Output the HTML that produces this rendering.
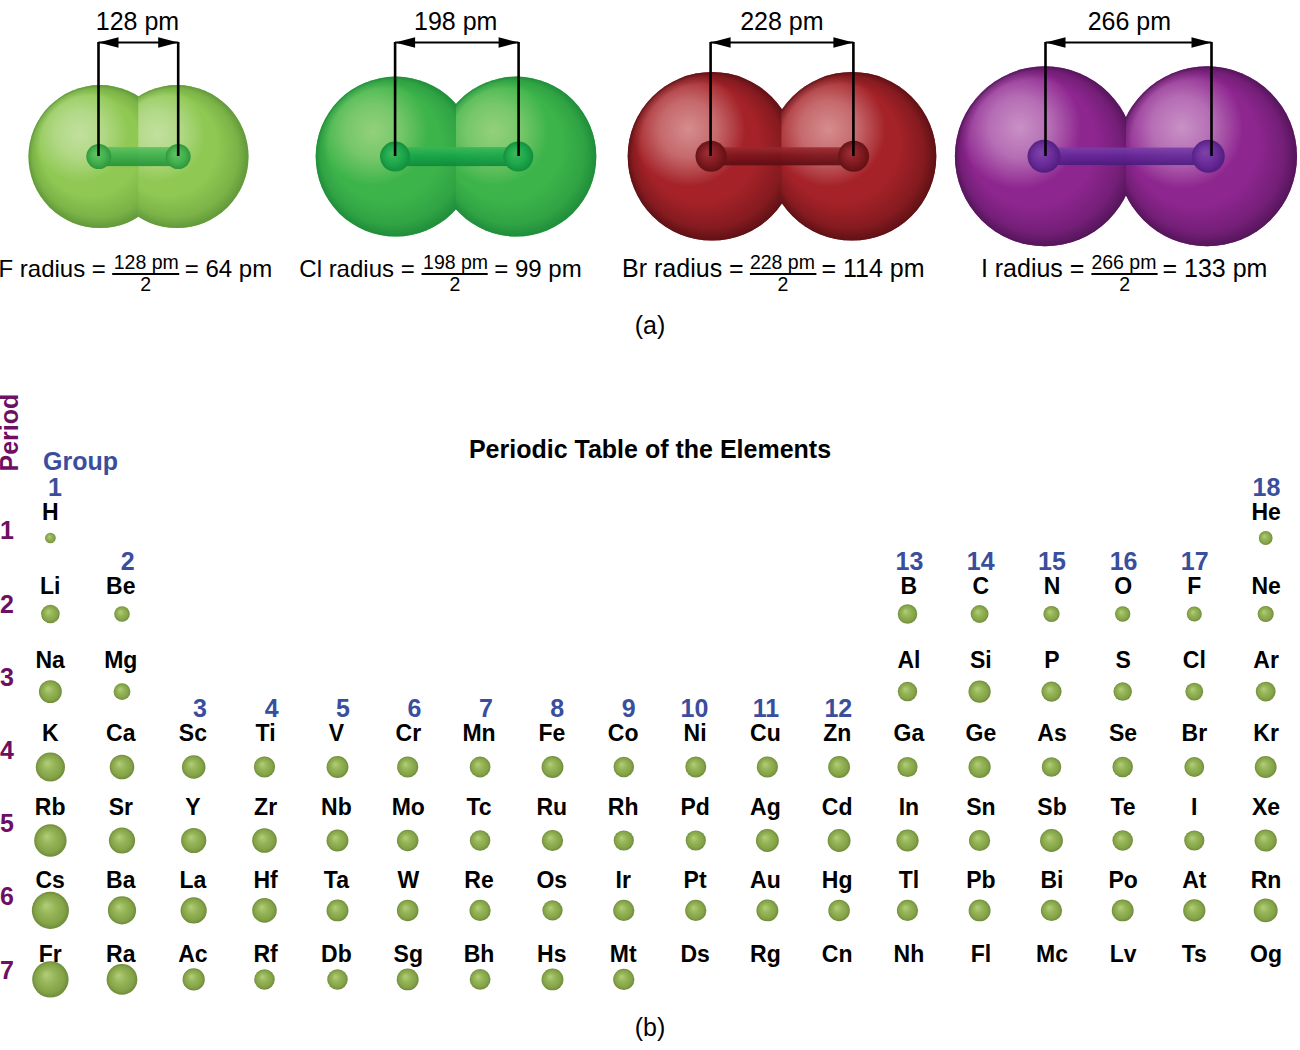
<!DOCTYPE html>
<html><head><meta charset="utf-8">
<style>
html,body{margin:0;padding:0;background:#fff;}
svg{display:block;}
text{font-family:"Liberation Sans", sans-serif;}
.sym{font-weight:bold;font-size:23px;text-anchor:middle;fill:#000;}
.grp{font-weight:bold;font-size:25px;text-anchor:middle;fill:#3a4e9e;}
.per{font-weight:bold;font-size:25px;text-anchor:end;fill:#6d0f63;}
.lab{font-size:24px;fill:#000;}
.frac{font-size:19.5px;fill:#000;text-anchor:middle;}
.cap{font-size:25px;fill:#000;text-anchor:middle;}
</style></head>
<body>
<svg width="1300" height="1050" viewBox="0 0 1300 1050">
<defs><radialGradient id="gs" cx="0.5" cy="0.5" r="0.5" fx="0.38" fy="0.36">
  <stop offset="0" stop-color="#b2ce7c"/>
  <stop offset="0.4" stop-color="#97b658"/>
  <stop offset="0.8" stop-color="#84a247"/>
  <stop offset="1" stop-color="#6e8c3a"/>
</radialGradient>
<radialGradient id="g_f" cx="0.5" cy="0.5" r="0.5" fx="0.42" fy="0.42">
<stop offset="0" stop-color="#8fc852"/><stop offset="0.72" stop-color="#8fc852"/><stop offset="0.92" stop-color="#5a9036" stop-opacity="0.0"/></radialGradient>
<radialGradient id="d_f" cx="0.5" cy="0.5" r="0.5" fx="0.27" fy="0.25">
<stop offset="0" stop-color="#5a9036" stop-opacity="0"/><stop offset="0.7" stop-color="#5a9036" stop-opacity="0"/><stop offset="0.9" stop-color="#5a9036" stop-opacity="0.38"/><stop offset="1" stop-color="#5a9036" stop-opacity="0.85"/></radialGradient>
<radialGradient id="h_f" cx="0.36" cy="0.34" r="0.34">
<stop offset="0" stop-color="#d2e8b8" stop-opacity="0.75"/><stop offset="0.5" stop-color="#d2e8b8" stop-opacity="0.5"/><stop offset="1" stop-color="#d2e8b8" stop-opacity="0"/></radialGradient>
<linearGradient id="b_f" x1="0" y1="0" x2="0" y2="1">
<stop offset="0" stop-color="#5cc064"/><stop offset="0.45" stop-color="#3aae4a"/><stop offset="1" stop-color="#249038"/></linearGradient>
<radialGradient id="n_f" cx="0.5" cy="0.5" r="0.5" fx="0.4" fy="0.38">
<stop offset="0" stop-color="#5cc064"/><stop offset="0.6" stop-color="#3aae4a"/><stop offset="1" stop-color="#249038"/></radialGradient>
<clipPath id="cL_f"><rect x="0" y="0" width="139.3" height="300"/></clipPath>
<clipPath id="cR_f"><rect x="138.3" y="0" width="1300" height="300"/></clipPath>
<radialGradient id="g_cl" cx="0.5" cy="0.5" r="0.5" fx="0.42" fy="0.42">
<stop offset="0" stop-color="#3db44a"/><stop offset="0.72" stop-color="#3db44a"/><stop offset="0.92" stop-color="#1a8638" stop-opacity="0.0"/></radialGradient>
<radialGradient id="d_cl" cx="0.5" cy="0.5" r="0.5" fx="0.27" fy="0.25">
<stop offset="0" stop-color="#1a8638" stop-opacity="0"/><stop offset="0.7" stop-color="#1a8638" stop-opacity="0"/><stop offset="0.9" stop-color="#1a8638" stop-opacity="0.38"/><stop offset="1" stop-color="#1a8638" stop-opacity="0.85"/></radialGradient>
<radialGradient id="h_cl" cx="0.36" cy="0.34" r="0.34">
<stop offset="0" stop-color="#b0da8a" stop-opacity="0.75"/><stop offset="0.5" stop-color="#b0da8a" stop-opacity="0.5"/><stop offset="1" stop-color="#b0da8a" stop-opacity="0"/></radialGradient>
<linearGradient id="b_cl" x1="0" y1="0" x2="0" y2="1">
<stop offset="0" stop-color="#38b858"/><stop offset="0.45" stop-color="#17a54a"/><stop offset="1" stop-color="#0c8a3a"/></linearGradient>
<radialGradient id="n_cl" cx="0.5" cy="0.5" r="0.5" fx="0.4" fy="0.38">
<stop offset="0" stop-color="#38b858"/><stop offset="0.6" stop-color="#17a54a"/><stop offset="1" stop-color="#0c8a3a"/></radialGradient>
<clipPath id="cL_cl"><rect x="0" y="0" width="457" height="300"/></clipPath>
<clipPath id="cR_cl"><rect x="456" y="0" width="1300" height="300"/></clipPath>
<radialGradient id="g_br" cx="0.5" cy="0.5" r="0.5" fx="0.42" fy="0.42">
<stop offset="0" stop-color="#a42228"/><stop offset="0.72" stop-color="#a42228"/><stop offset="0.92" stop-color="#520e12" stop-opacity="0.0"/></radialGradient>
<radialGradient id="d_br" cx="0.5" cy="0.5" r="0.5" fx="0.27" fy="0.25">
<stop offset="0" stop-color="#520e12" stop-opacity="0"/><stop offset="0.7" stop-color="#520e12" stop-opacity="0"/><stop offset="0.9" stop-color="#520e12" stop-opacity="0.38"/><stop offset="1" stop-color="#520e12" stop-opacity="0.85"/></radialGradient>
<radialGradient id="h_br" cx="0.36" cy="0.34" r="0.34">
<stop offset="0" stop-color="#e6b0b0" stop-opacity="0.75"/><stop offset="0.5" stop-color="#e6b0b0" stop-opacity="0.5"/><stop offset="1" stop-color="#e6b0b0" stop-opacity="0"/></radialGradient>
<linearGradient id="b_br" x1="0" y1="0" x2="0" y2="1">
<stop offset="0" stop-color="#9a2a30"/><stop offset="0.45" stop-color="#7c161c"/><stop offset="1" stop-color="#5a0c10"/></linearGradient>
<radialGradient id="n_br" cx="0.5" cy="0.5" r="0.5" fx="0.4" fy="0.38">
<stop offset="0" stop-color="#9a2a30"/><stop offset="0.6" stop-color="#7c161c"/><stop offset="1" stop-color="#5a0c10"/></radialGradient>
<clipPath id="cL_br"><rect x="0" y="0" width="782.4" height="300"/></clipPath>
<clipPath id="cR_br"><rect x="781.4" y="0" width="1300" height="300"/></clipPath>
<radialGradient id="g_i" cx="0.5" cy="0.5" r="0.5" fx="0.42" fy="0.42">
<stop offset="0" stop-color="#8e2690"/><stop offset="0.72" stop-color="#8e2690"/><stop offset="0.92" stop-color="#4a1250" stop-opacity="0.0"/></radialGradient>
<radialGradient id="d_i" cx="0.5" cy="0.5" r="0.5" fx="0.27" fy="0.25">
<stop offset="0" stop-color="#4a1250" stop-opacity="0"/><stop offset="0.7" stop-color="#4a1250" stop-opacity="0"/><stop offset="0.9" stop-color="#4a1250" stop-opacity="0.38"/><stop offset="1" stop-color="#4a1250" stop-opacity="0.85"/></radialGradient>
<radialGradient id="h_i" cx="0.36" cy="0.34" r="0.34">
<stop offset="0" stop-color="#dcb4d8" stop-opacity="0.75"/><stop offset="0.5" stop-color="#dcb4d8" stop-opacity="0.5"/><stop offset="1" stop-color="#dcb4d8" stop-opacity="0"/></radialGradient>
<linearGradient id="b_i" x1="0" y1="0" x2="0" y2="1">
<stop offset="0" stop-color="#7a40a8"/><stop offset="0.45" stop-color="#65289a"/><stop offset="1" stop-color="#4a1a7c"/></linearGradient>
<radialGradient id="n_i" cx="0.5" cy="0.5" r="0.5" fx="0.4" fy="0.38">
<stop offset="0" stop-color="#7a40a8"/><stop offset="0.6" stop-color="#65289a"/><stop offset="1" stop-color="#4a1a7c"/></radialGradient>
<clipPath id="cL_i"><rect x="0" y="0" width="1127" height="300"/></clipPath>
<clipPath id="cR_i"><rect x="1126" y="0" width="1300" height="300"/></clipPath></defs>
<g clip-path="url(#cL_f)"><circle cx="100" cy="156.6" r="71.5" fill="#8fc852"/><circle cx="100" cy="156.6" r="71.5" fill="url(#h_f)"/><circle cx="100" cy="156.6" r="71.5" fill="url(#d_f)"/></g>
<g clip-path="url(#cR_f)"><circle cx="177" cy="156.6" r="71.5" fill="#8fc852"/><circle cx="177" cy="156.6" r="71.5" fill="url(#h_f)"/><circle cx="177" cy="156.6" r="71.5" fill="url(#d_f)"/></g>
<g opacity="0.9"><rect x="98.8" y="147.1" width="79.39999999999999" height="19" fill="url(#b_f)"/><circle cx="98.8" cy="156.6" r="12.5" fill="url(#n_f)"/><circle cx="178.2" cy="156.6" r="12.5" fill="url(#n_f)"/></g>
<path d="M98.5 156 V41.9 M178.2 156 V41.9" fill="none" stroke="#000" stroke-width="2.6"/>
<path d="M98.5 42.5 H178.2" fill="none" stroke="#000" stroke-width="2.1"/>
<path d="M98.5 42.5 L118.5 37.2 V47.8 Z M178.2 42.5 L158.2 37.2 V47.8 Z" fill="#000"/>
<text x="137.5" y="30" class="lab" style="font-size:25px" text-anchor="middle">128 pm</text>
<text x="-1.5" y="277.3" class="lab" style="font-size:24px">F radius =</text>
<text x="146.25" y="269.4" class="frac">128 pm</text>
<rect x="112.2" y="273" width="66.99999999999999" height="2" fill="#000"/>
<text x="145.6" y="290.5" class="frac">2</text>
<text x="184.8" y="277.3" class="lab" style="font-size:24px">= 64 pm</text>
<g clip-path="url(#cL_cl)"><circle cx="395.7" cy="156.6" r="80" fill="#3db44a"/><circle cx="395.7" cy="156.6" r="80" fill="url(#h_cl)"/><circle cx="395.7" cy="156.6" r="80" fill="url(#d_cl)"/></g>
<g clip-path="url(#cR_cl)"><circle cx="516.3" cy="156.6" r="80" fill="#3db44a"/><circle cx="516.3" cy="156.6" r="80" fill="url(#h_cl)"/><circle cx="516.3" cy="156.6" r="80" fill="url(#d_cl)"/></g>
<g opacity="0.9"><rect x="395" y="147.1" width="123.29999999999995" height="19" fill="url(#b_cl)"/><circle cx="395" cy="156.6" r="15" fill="url(#n_cl)"/><circle cx="518.3" cy="156.6" r="15" fill="url(#n_cl)"/></g>
<path d="M395.1 156 V41.9 M518.6 156 V41.9" fill="none" stroke="#000" stroke-width="2.6"/>
<path d="M395.1 42.5 H518.6" fill="none" stroke="#000" stroke-width="2.1"/>
<path d="M395.1 42.5 L415.1 37.2 V47.8 Z M518.6 42.5 L498.6 37.2 V47.8 Z" fill="#000"/>
<text x="455.7" y="30" class="lab" style="font-size:25px" text-anchor="middle">198 pm</text>
<text x="299.3" y="277.3" class="lab" style="font-size:24px">Cl radius =</text>
<text x="455.6" y="269.4" class="frac">198 pm</text>
<rect x="421.5" y="273" width="66.19999999999999" height="2" fill="#000"/>
<text x="455" y="290.5" class="frac">2</text>
<text x="494.3" y="277.3" class="lab" style="font-size:24px">= 99 pm</text>
<g clip-path="url(#cL_br)"><circle cx="712" cy="156.3" r="84.3" fill="#a42228"/><circle cx="712" cy="156.3" r="84.3" fill="url(#h_br)"/><circle cx="712" cy="156.3" r="84.3" fill="url(#d_br)"/></g>
<g clip-path="url(#cR_br)"><circle cx="852" cy="156.3" r="84.3" fill="#a42228"/><circle cx="852" cy="156.3" r="84.3" fill="url(#h_br)"/><circle cx="852" cy="156.3" r="84.3" fill="url(#d_br)"/></g>
<g opacity="0.9"><rect x="711" y="147.3" width="142.60000000000002" height="18" fill="url(#b_br)"/><circle cx="711" cy="156.3" r="15.5" fill="url(#n_br)"/><circle cx="853.6" cy="156.3" r="15.5" fill="url(#n_br)"/></g>
<path d="M710.6 156 V41.9 M853.4 156 V41.9" fill="none" stroke="#000" stroke-width="2.6"/>
<path d="M710.6 42.5 H853.4" fill="none" stroke="#000" stroke-width="2.1"/>
<path d="M710.6 42.5 L730.6 37.2 V47.8 Z M853.4 42.5 L833.4 37.2 V47.8 Z" fill="#000"/>
<text x="781.9" y="30" class="lab" style="font-size:25px" text-anchor="middle">228 pm</text>
<text x="622.1" y="277.3" class="lab" style="font-size:25px">Br radius =</text>
<text x="782.4" y="269.4" class="frac">228 pm</text>
<rect x="749.9" y="273" width="66.5" height="2" fill="#000"/>
<text x="783" y="290.5" class="frac">2</text>
<text x="821.5" y="277.3" class="lab" style="font-size:25px">= 114 pm</text>
<g clip-path="url(#cL_i)"><circle cx="1044.9" cy="156.3" r="90" fill="#8e2690"/><circle cx="1044.9" cy="156.3" r="90" fill="url(#h_i)"/><circle cx="1044.9" cy="156.3" r="90" fill="url(#d_i)"/></g>
<g clip-path="url(#cR_i)"><circle cx="1207" cy="156.3" r="90" fill="#8e2690"/><circle cx="1207" cy="156.3" r="90" fill="url(#h_i)"/><circle cx="1207" cy="156.3" r="90" fill="url(#d_i)"/></g>
<g opacity="0.9"><rect x="1044" y="147.55" width="164.29999999999995" height="17.5" fill="url(#b_i)"/><circle cx="1044" cy="156.3" r="16.5" fill="url(#n_i)"/><circle cx="1208.3" cy="156.3" r="16.5" fill="url(#n_i)"/></g>
<path d="M1045.5 156 V41.9 M1211.5 156 V41.9" fill="none" stroke="#000" stroke-width="2.6"/>
<path d="M1045.5 42.5 H1211.5" fill="none" stroke="#000" stroke-width="2.1"/>
<path d="M1045.5 42.5 L1065.5 37.2 V47.8 Z M1211.5 42.5 L1191.5 37.2 V47.8 Z" fill="#000"/>
<text x="1129.4" y="30" class="lab" style="font-size:25px" text-anchor="middle">266 pm</text>
<text x="980.9" y="277.3" class="lab" style="font-size:25px">I radius =</text>
<text x="1123.9" y="269.4" class="frac">266 pm</text>
<rect x="1091.4" y="273" width="66.19999999999982" height="2" fill="#000"/>
<text x="1124.65" y="290.5" class="frac">2</text>
<text x="1162.5" y="277.3" class="lab" style="font-size:25px">= 133 pm</text>
<text x="50.2" y="520.4" class="sym">H</text>
<circle cx="50.4" cy="538.0" r="5.35" fill="url(#gs)"/>
<text x="1266.1" y="520.4" class="sym">He</text>
<circle cx="1265.7" cy="538.0" r="6.90" fill="url(#gs)"/>
<text x="50.2" y="593.9" class="sym">Li</text>
<circle cx="50.4" cy="614.0" r="9.30" fill="url(#gs)"/>
<text x="120.8" y="593.9" class="sym">Be</text>
<circle cx="122.0" cy="614.0" r="7.80" fill="url(#gs)"/>
<text x="908.9" y="593.9" class="sym">B</text>
<circle cx="907.5" cy="614.0" r="9.75" fill="url(#gs)"/>
<text x="980.9" y="593.9" class="sym">C</text>
<circle cx="979.6" cy="614.0" r="8.90" fill="url(#gs)"/>
<text x="1052.0" y="593.9" class="sym">N</text>
<circle cx="1051.5" cy="614.0" r="8.10" fill="url(#gs)"/>
<text x="1123.1" y="593.9" class="sym">O</text>
<circle cx="1122.7" cy="614.0" r="7.70" fill="url(#gs)"/>
<text x="1194.3" y="593.9" class="sym">F</text>
<circle cx="1194.3" cy="614.0" r="7.55" fill="url(#gs)"/>
<text x="1266.1" y="593.9" class="sym">Ne</text>
<circle cx="1265.7" cy="614.0" r="8.05" fill="url(#gs)"/>
<text x="50.2" y="667.5" class="sym">Na</text>
<circle cx="50.4" cy="691.6" r="11.45" fill="url(#gs)"/>
<text x="120.8" y="667.5" class="sym">Mg</text>
<circle cx="122.0" cy="691.6" r="8.40" fill="url(#gs)"/>
<text x="908.9" y="667.5" class="sym">Al</text>
<circle cx="907.5" cy="691.6" r="9.75" fill="url(#gs)"/>
<text x="980.9" y="667.5" class="sym">Si</text>
<circle cx="979.6" cy="691.6" r="11.10" fill="url(#gs)"/>
<text x="1052.0" y="667.5" class="sym">P</text>
<circle cx="1051.5" cy="691.6" r="10.10" fill="url(#gs)"/>
<text x="1123.1" y="667.5" class="sym">S</text>
<circle cx="1122.7" cy="691.6" r="9.25" fill="url(#gs)"/>
<text x="1194.3" y="667.5" class="sym">Cl</text>
<circle cx="1194.3" cy="691.6" r="8.90" fill="url(#gs)"/>
<text x="1266.1" y="667.5" class="sym">Ar</text>
<circle cx="1265.7" cy="691.6" r="9.90" fill="url(#gs)"/>
<text x="50.2" y="741.0" class="sym">K</text>
<circle cx="50.4" cy="767.0" r="14.60" fill="url(#gs)"/>
<text x="120.8" y="741.0" class="sym">Ca</text>
<circle cx="122.0" cy="767.0" r="12.30" fill="url(#gs)"/>
<text x="192.9" y="741.0" class="sym">Sc</text>
<circle cx="193.7" cy="767.0" r="11.80" fill="url(#gs)"/>
<text x="265.6" y="741.0" class="sym">Ti</text>
<circle cx="264.5" cy="767.0" r="10.60" fill="url(#gs)"/>
<text x="336.4" y="741.0" class="sym">V</text>
<circle cx="337.5" cy="767.0" r="10.95" fill="url(#gs)"/>
<text x="408.3" y="741.0" class="sym">Cr</text>
<circle cx="407.7" cy="767.0" r="10.60" fill="url(#gs)"/>
<text x="479.0" y="741.0" class="sym">Mn</text>
<circle cx="480.1" cy="767.0" r="10.40" fill="url(#gs)"/>
<text x="551.8" y="741.0" class="sym">Fe</text>
<circle cx="552.5" cy="767.0" r="10.95" fill="url(#gs)"/>
<text x="623.2" y="741.0" class="sym">Co</text>
<circle cx="623.8" cy="767.0" r="10.25" fill="url(#gs)"/>
<text x="695.1" y="741.0" class="sym">Ni</text>
<circle cx="695.8" cy="767.0" r="10.45" fill="url(#gs)"/>
<text x="765.4" y="741.0" class="sym">Cu</text>
<circle cx="767.4" cy="767.0" r="10.60" fill="url(#gs)"/>
<text x="837.2" y="741.0" class="sym">Zn</text>
<circle cx="839.1" cy="767.0" r="10.95" fill="url(#gs)"/>
<text x="908.9" y="741.0" class="sym">Ga</text>
<circle cx="907.5" cy="767.0" r="10.10" fill="url(#gs)"/>
<text x="980.9" y="741.0" class="sym">Ge</text>
<circle cx="979.6" cy="767.0" r="11.10" fill="url(#gs)"/>
<text x="1052.0" y="741.0" class="sym">As</text>
<circle cx="1051.5" cy="767.0" r="9.75" fill="url(#gs)"/>
<text x="1123.1" y="741.0" class="sym">Se</text>
<circle cx="1122.7" cy="767.0" r="10.25" fill="url(#gs)"/>
<text x="1194.3" y="741.0" class="sym">Br</text>
<circle cx="1194.3" cy="767.0" r="9.90" fill="url(#gs)"/>
<text x="1266.1" y="741.0" class="sym">Kr</text>
<circle cx="1265.7" cy="767.0" r="10.95" fill="url(#gs)"/>
<text x="50.2" y="814.6" class="sym">Rb</text>
<circle cx="50.4" cy="840.5" r="16.20" fill="url(#gs)"/>
<text x="120.8" y="814.6" class="sym">Sr</text>
<circle cx="122.0" cy="840.5" r="13.10" fill="url(#gs)"/>
<text x="192.9" y="814.6" class="sym">Y</text>
<circle cx="193.7" cy="840.5" r="12.60" fill="url(#gs)"/>
<text x="265.6" y="814.6" class="sym">Zr</text>
<circle cx="264.5" cy="840.5" r="12.30" fill="url(#gs)"/>
<text x="336.4" y="814.6" class="sym">Nb</text>
<circle cx="337.5" cy="840.5" r="10.95" fill="url(#gs)"/>
<text x="408.3" y="814.6" class="sym">Mo</text>
<circle cx="407.7" cy="840.5" r="10.75" fill="url(#gs)"/>
<text x="479.0" y="814.6" class="sym">Tc</text>
<circle cx="480.1" cy="840.5" r="10.25" fill="url(#gs)"/>
<text x="551.8" y="814.6" class="sym">Ru</text>
<circle cx="552.5" cy="840.5" r="10.60" fill="url(#gs)"/>
<text x="623.2" y="814.6" class="sym">Rh</text>
<circle cx="623.8" cy="840.5" r="10.10" fill="url(#gs)"/>
<text x="695.1" y="814.6" class="sym">Pd</text>
<circle cx="695.8" cy="840.5" r="10.10" fill="url(#gs)"/>
<text x="765.4" y="814.6" class="sym">Ag</text>
<circle cx="767.4" cy="840.5" r="11.45" fill="url(#gs)"/>
<text x="837.2" y="814.6" class="sym">Cd</text>
<circle cx="839.1" cy="840.5" r="11.45" fill="url(#gs)"/>
<text x="908.9" y="814.6" class="sym">In</text>
<circle cx="907.5" cy="840.5" r="11.10" fill="url(#gs)"/>
<text x="980.9" y="814.6" class="sym">Sn</text>
<circle cx="979.6" cy="840.5" r="10.60" fill="url(#gs)"/>
<text x="1052.0" y="814.6" class="sym">Sb</text>
<circle cx="1051.5" cy="840.5" r="11.45" fill="url(#gs)"/>
<text x="1123.1" y="814.6" class="sym">Te</text>
<circle cx="1122.7" cy="840.5" r="10.25" fill="url(#gs)"/>
<text x="1194.3" y="814.6" class="sym">I</text>
<circle cx="1194.3" cy="840.5" r="10.10" fill="url(#gs)"/>
<text x="1266.1" y="814.6" class="sym">Xe</text>
<circle cx="1265.7" cy="840.5" r="11.10" fill="url(#gs)"/>
<text x="50.2" y="888.1" class="sym">Cs</text>
<circle cx="50.4" cy="910.4" r="18.55" fill="url(#gs)"/>
<text x="120.8" y="888.1" class="sym">Ba</text>
<circle cx="122.0" cy="910.4" r="14.10" fill="url(#gs)"/>
<text x="192.9" y="888.1" class="sym">La</text>
<circle cx="193.7" cy="910.4" r="13.10" fill="url(#gs)"/>
<text x="265.6" y="888.1" class="sym">Hf</text>
<circle cx="264.5" cy="910.4" r="12.30" fill="url(#gs)"/>
<text x="336.4" y="888.1" class="sym">Ta</text>
<circle cx="337.5" cy="910.4" r="10.95" fill="url(#gs)"/>
<text x="408.3" y="888.1" class="sym">W</text>
<circle cx="407.7" cy="910.4" r="10.75" fill="url(#gs)"/>
<text x="479.0" y="888.1" class="sym">Re</text>
<circle cx="480.1" cy="910.4" r="10.60" fill="url(#gs)"/>
<text x="551.8" y="888.1" class="sym">Os</text>
<circle cx="552.5" cy="910.4" r="10.10" fill="url(#gs)"/>
<text x="623.2" y="888.1" class="sym">Ir</text>
<circle cx="623.8" cy="910.4" r="10.60" fill="url(#gs)"/>
<text x="695.1" y="888.1" class="sym">Pt</text>
<circle cx="695.8" cy="910.4" r="10.60" fill="url(#gs)"/>
<text x="765.4" y="888.1" class="sym">Au</text>
<circle cx="767.4" cy="910.4" r="10.95" fill="url(#gs)"/>
<text x="837.2" y="888.1" class="sym">Hg</text>
<circle cx="839.1" cy="910.4" r="10.75" fill="url(#gs)"/>
<text x="908.9" y="888.1" class="sym">Tl</text>
<circle cx="907.5" cy="910.4" r="10.60" fill="url(#gs)"/>
<text x="980.9" y="888.1" class="sym">Pb</text>
<circle cx="979.6" cy="910.4" r="10.95" fill="url(#gs)"/>
<text x="1052.0" y="888.1" class="sym">Bi</text>
<circle cx="1051.5" cy="910.4" r="10.60" fill="url(#gs)"/>
<text x="1123.1" y="888.1" class="sym">Po</text>
<circle cx="1122.7" cy="910.4" r="10.95" fill="url(#gs)"/>
<text x="1194.3" y="888.1" class="sym">At</text>
<circle cx="1194.3" cy="910.4" r="11.10" fill="url(#gs)"/>
<text x="1266.1" y="888.1" class="sym">Rn</text>
<circle cx="1265.7" cy="910.4" r="11.95" fill="url(#gs)"/>
<text x="50.2" y="961.7" class="sym">Fr</text>
<circle cx="50.4" cy="979.4" r="18.20" fill="url(#gs)"/>
<text x="120.8" y="961.7" class="sym">Ra</text>
<circle cx="122.0" cy="979.4" r="15.35" fill="url(#gs)"/>
<text x="192.9" y="961.7" class="sym">Ac</text>
<circle cx="193.7" cy="979.4" r="11.10" fill="url(#gs)"/>
<text x="265.6" y="961.7" class="sym">Rf</text>
<circle cx="264.5" cy="979.4" r="10.25" fill="url(#gs)"/>
<text x="336.4" y="961.7" class="sym">Db</text>
<circle cx="337.5" cy="979.4" r="10.25" fill="url(#gs)"/>
<text x="408.3" y="961.7" class="sym">Sg</text>
<circle cx="407.7" cy="979.4" r="10.95" fill="url(#gs)"/>
<text x="479.0" y="961.7" class="sym">Bh</text>
<circle cx="480.1" cy="979.4" r="10.40" fill="url(#gs)"/>
<text x="551.8" y="961.7" class="sym">Hs</text>
<circle cx="552.5" cy="979.4" r="10.95" fill="url(#gs)"/>
<text x="623.2" y="961.7" class="sym">Mt</text>
<circle cx="623.8" cy="979.4" r="10.60" fill="url(#gs)"/>
<text x="695.1" y="961.7" class="sym">Ds</text>
<text x="765.4" y="961.7" class="sym">Rg</text>
<text x="837.2" y="961.7" class="sym">Cn</text>
<text x="908.9" y="961.7" class="sym">Nh</text>
<text x="980.9" y="961.7" class="sym">Fl</text>
<text x="1052.0" y="961.7" class="sym">Mc</text>
<text x="1123.1" y="961.7" class="sym">Lv</text>
<text x="1194.3" y="961.7" class="sym">Ts</text>
<text x="1266.1" y="961.7" class="sym">Og</text>
<text x="55.0" y="496.2" class="grp">1</text>
<text x="127.7" y="569.5" class="grp">2</text>
<text x="200.0" y="716.6" class="grp">3</text>
<text x="271.6" y="716.6" class="grp">4</text>
<text x="343.0" y="716.6" class="grp">5</text>
<text x="414.5" y="716.6" class="grp">6</text>
<text x="486.0" y="716.6" class="grp">7</text>
<text x="557.2" y="716.6" class="grp">8</text>
<text x="628.6" y="716.6" class="grp">9</text>
<text x="694.5" y="716.6" class="grp">10</text>
<text x="766.0" y="716.6" class="grp">11</text>
<text x="838.3" y="716.6" class="grp">12</text>
<text x="909.4" y="569.8" class="grp">13</text>
<text x="980.7" y="569.8" class="grp">14</text>
<text x="1052.0" y="569.8" class="grp">15</text>
<text x="1123.6" y="569.8" class="grp">16</text>
<text x="1194.7" y="569.8" class="grp">17</text>
<text x="1266.4" y="496.4" class="grp">18</text>
<text x="14" y="539.4" class="per">1</text>
<text x="14" y="612.6" class="per">2</text>
<text x="14" y="685.8" class="per">3</text>
<text x="14" y="759.0" class="per">4</text>
<text x="14" y="832.2" class="per">5</text>
<text x="14" y="905.4" class="per">6</text>
<text x="14" y="978.6" class="per">7</text>
<text x="650" y="458" style="font-weight:bold;font-size:25px;text-anchor:middle">Periodic Table of the Elements</text>
<text x="43" y="470" style="font-weight:bold;font-size:25px;fill:#3a4e9e">Group</text>
<text transform="translate(18,471.5) rotate(-90)" style="font-weight:bold;font-size:25px;fill:#6d0f63">Period</text>
<text x="650" y="334" class="cap">(a)</text>
<text x="650" y="1036" class="cap">(b)</text>
</svg>
</body></html>
